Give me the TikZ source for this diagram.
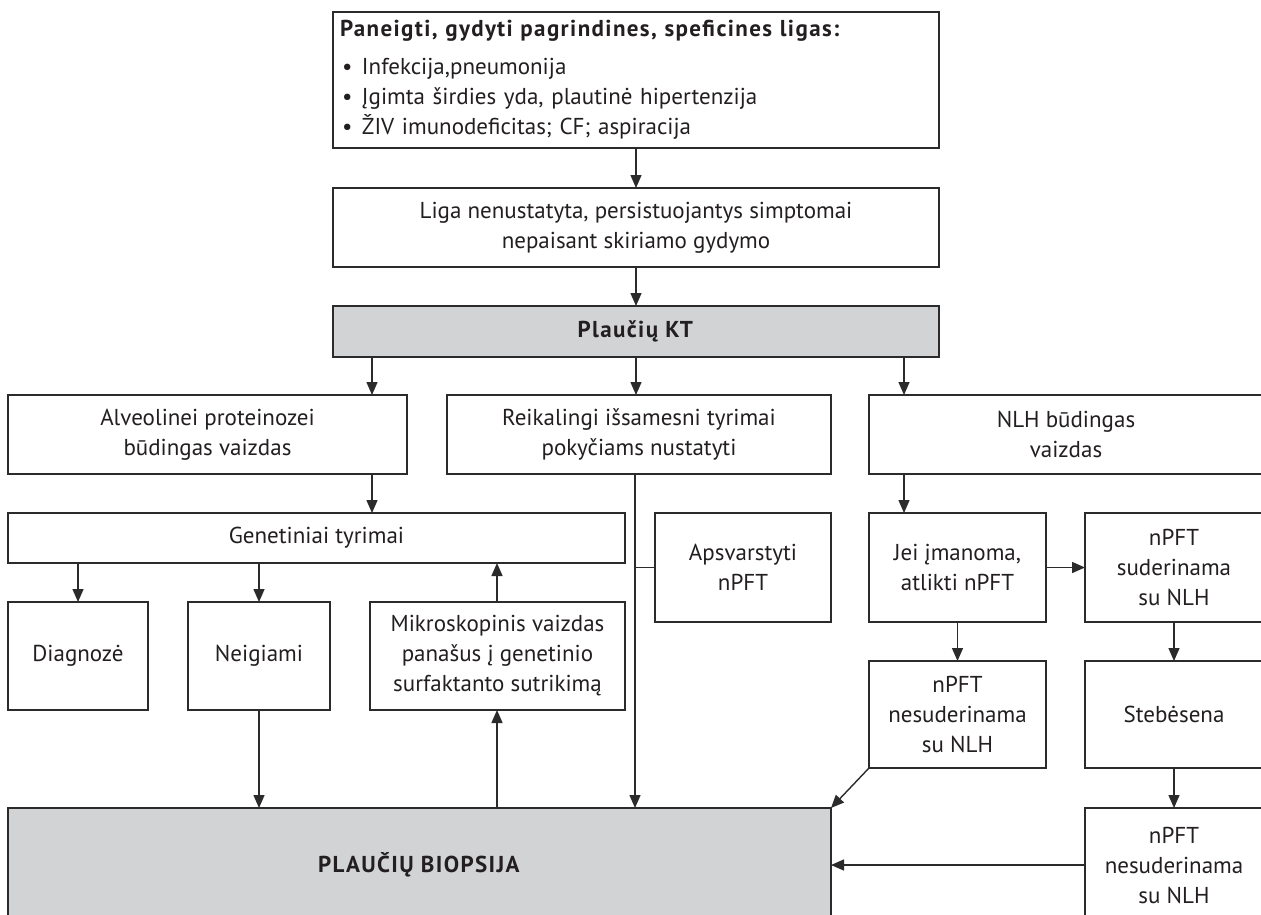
\documentclass[tikz,border=0pt]{standalone}
\usepackage{fontspec}
\setmainfont{PT Sans}[BoldFeatures={LetterSpace=6}]
\usetikzlibrary{arrows.meta}
\definecolor{textc}{HTML}{231F20}
\definecolor{linec}{HTML}{2B2B2B}
\definecolor{grayc}{HTML}{D1D3D4}
\newcommand{\bodyfont}{\fontsize{23}{30}\selectfont}
\newcommand{\bul}{\makebox[22pt][l]{\hspace{2pt}\textbullet}}
\tikzset{
  box/.style={draw=linec, line width=1.4pt, fill=white, inner sep=0pt, outer sep=0pt,
    align=center, font=\bodyfont, text=textc},
  gbox/.style={box, fill=grayc},
  arr/.style={draw=linec, line width=1.4pt, -{Triangle[length=13pt,width=11pt]}},
  ln/.style={draw=linec, line width=1.4pt}
}
\begin{document}
\begin{tikzpicture}[x=1pt,y=-1pt]
\useasboundingbox (0,0) rectangle (1261,914);
\clip (0,0) rectangle (1261,914);
% top
\node[box, minimum width=606, minimum height=136, text width=592, align=left] (top) at (636,80)
 {\textbf{Paneigti, gydyti pagrindines, speficines ligas:}\\[8pt]
  \bul Infekcija,pneumonija\\
  \bul Įgimta širdies yda, plautinė hipertenzija\\
  \bul ŽIV imunodeficitas; CF; aspiracija};
\node[box, minimum width=606, minimum height=79] (liga) at (636,227.5)
 {Liga nenustatyta, persistuojantys simptomai\\nepaisant skiriamo gydymo};
\node[gbox, minimum width=606, minimum height=51] (kt) at (636,331.5) {\textbf{Plaučių KT}};
% row 3
\node[box, minimum width=399, minimum height=79] (alv) at (207.5,434.5)
 {Alveolinei proteinozei\\būdingas vaizdas};
\node[box, minimum width=384, minimum height=79] (reik) at (639,434.5)
 {Reikalingi išsamesni tyrimai\\pokyčiams nustatyti};
\node[box, minimum width=394, minimum height=79] (nlh) at (1066,434.5)
 {NLH būdingas\\vaizdas};
% genetics
\node[box, minimum width=617, minimum height=50] (gen) at (316.5,538) {Genetiniai tyrimai};
\node[box, minimum width=140, minimum height=108] (diag) at (78,656) {Diagnozė};
\node[box, minimum width=142, minimum height=108] (neig) at (259,656) {Neigiami};
\node[box, minimum width=255, minimum height=108] (mikro) at (497.5,656)
 {Mikroskopinis vaizdas\\panašus į genetinio\\surfaktanto sutrikimą};
% middle / right
\node[box, minimum width=176, minimum height=109] (apsv) at (743,567.5) {Apsvarstyti\\nPFT};
\node[box, minimum width=177, minimum height=109] (jei) at (957.5,567.5) {Jei įmanoma,\\atlikti nPFT};
\node[box, minimum width=178, minimum height=109] (sud) at (1174,567.5) {nPFT\\suderinama\\su NLH};
\node[box, minimum width=177, minimum height=107] (nes) at (957.5,714.5) {nPFT\\nesuderinama\\su NLH};
\node[box, minimum width=178, minimum height=107] (steb) at (1174,714.5) {Stebėsena};
\node[box, minimum width=178, minimum height=114] (nes2) at (1174,865) {nPFT\\nesuderinama\\su NLH};
\node[gbox, minimum width=823, minimum height=114] (bio) at (419.5,865) {\textbf{PLAUČIŲ BIOPSIJA}};
% helper coordinates
\coordinate (xa) at (372,0);
\coordinate (xc) at (904,0);
\coordinate (xd) at (78,0);
\coordinate (xn) at (259,0);
\coordinate (xm) at (497,0);
\coordinate (j) at (635,567.5);
% connectors
\draw[arr] (top) -- (liga);
\draw[arr] (liga) -- (kt);
\draw[arr] (kt.south -| xa) -- (alv.north -| xa);
\draw[arr] (kt) -- (kt.south |- reik.north);
\draw[arr] (kt.south -| xc) -- (nlh.north -| xc);
\draw[arr] (alv.south -| xa) -- (gen.north -| xa);
\draw[arr] (gen.south -| xd) -- (diag.north -| xd);
\draw[arr] (gen.south -| xn) -- (neig.north -| xn);
\draw[arr] (mikro.north -| xm) -- (gen.south -| xm);
\draw[arr] (neig) -- (neig |- bio.north);
\draw[arr] (bio.north -| xm) -- (mikro.south -| xm);
\draw[arr] (reik.south -| j) -- (j |- bio.north);
\draw[ln] (j) -- (apsv.west);
\draw[arr] (nlh.south -| xc) -- (jei.north -| xc);
\draw[arr] (jei) -- (sud);
\draw[arr] (jei) -- (nes);
\draw[arr] (sud) -- (steb);
\draw[arr] (steb) -- (nes2);
\draw[arr] (nes.south west) -- (bio.north east);
\draw[arr] (nes2) -- (bio);
\end{tikzpicture}
\end{document}
